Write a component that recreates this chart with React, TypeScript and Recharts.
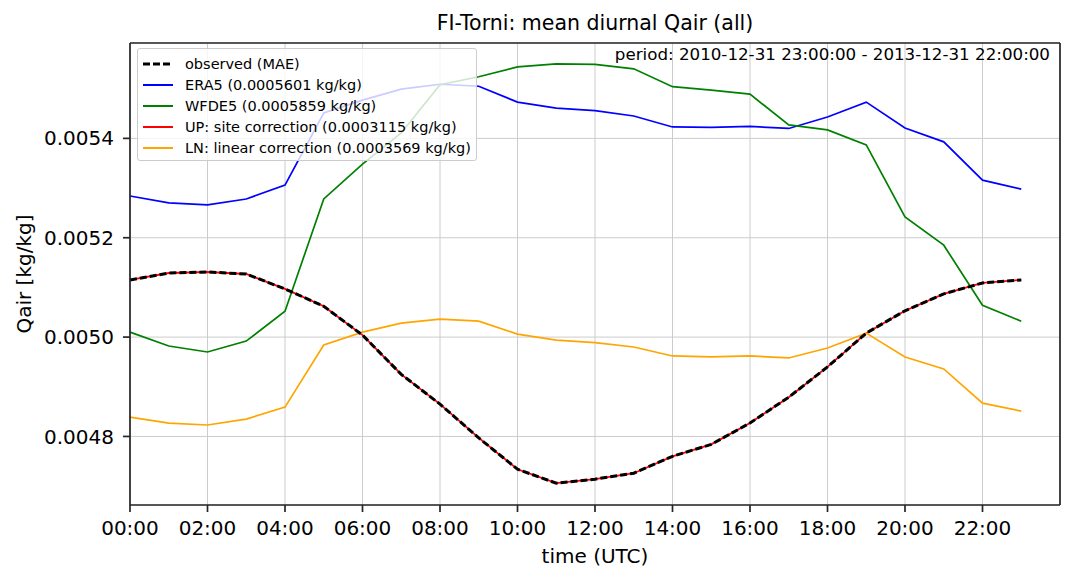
import React from 'react';
import { LineChart, Line, XAxis, YAxis, CartesianGrid, Label, ReferenceLine } from 'recharts';

const hours = [0, 1, 2, 3, 4, 5, 6, 7, 8, 9, 10, 11, 12, 13, 14, 15, 16, 17, 18, 19, 20, 21, 22, 23];

const observed = [
  0.005115, 0.005129, 0.005131, 0.005127, 0.005097, 0.005062, 0.005004, 0.004925,
  0.004865, 0.004797, 0.004734, 0.004706, 0.004714, 0.004726, 0.00476, 0.004784,
  0.004827, 0.004879, 0.00494, 0.005008, 0.005053, 0.005087, 0.005109, 0.005115,
];
const era5 = [
  0.005284, 0.00527, 0.005266, 0.005278, 0.005306, 0.005451, 0.005477, 0.005499,
  0.005509, 0.005505, 0.005473, 0.005461, 0.005456, 0.005445, 0.005423, 0.005422,
  0.005424, 0.00542, 0.005443, 0.005473, 0.005421, 0.005393, 0.005316, 0.005298,
];
const wfde5 = [
  0.00501, 0.004982, 0.00497, 0.004992, 0.005052, 0.005278, 0.005348, 0.005411,
  0.005508, 0.005524, 0.005544, 0.00555, 0.005549, 0.00554, 0.005504, 0.005497,
  0.005489, 0.005427, 0.005417, 0.005387, 0.005242, 0.005185, 0.005064, 0.005032,
];
const upSite = [
  0.005115, 0.005129, 0.005131, 0.005127, 0.005097, 0.005062, 0.005004, 0.004925,
  0.004865, 0.004797, 0.004734, 0.004706, 0.004714, 0.004726, 0.00476, 0.004784,
  0.004827, 0.004879, 0.00494, 0.005008, 0.005053, 0.005087, 0.005109, 0.005115,
];
const lnLinear = [
  0.004839, 0.004827, 0.004823, 0.004835, 0.004859, 0.004984, 0.00501, 0.005028,
  0.005036, 0.005032, 0.005006, 0.004994, 0.004989, 0.00498, 0.004962, 0.00496,
  0.004962, 0.004958, 0.004978, 0.005008, 0.00496, 0.004936, 0.004867, 0.004851,
];

const xTicks = [0, 2, 4, 6, 8, 10, 12, 14, 16, 18, 20, 22];
const yTicks = [0.0048, 0.005, 0.0052, 0.0054];
const xDomain = [0, 24];
const yDomain = [0.004662, 0.005592];

const series = [
  { key: 'obs', name: 'observed (MAE)', color: '#000000', dash: '7 3', width: 3 },
  { key: 'era5', name: 'ERA5 (0.0005601 kg/kg)', color: '#0000ff', dash: undefined, width: 1.7 },
  { key: 'wfde5', name: 'WFDE5 (0.0005859 kg/kg)', color: '#008000', dash: undefined, width: 1.7 },
  { key: 'up', name: 'UP: site correction (0.0003115 kg/kg)', color: '#ff0000', dash: undefined, width: 1.8 },
  { key: 'ln', name: 'LN: linear correction (0.0003569 kg/kg)', color: '#ffa500', dash: undefined, width: 1.7 },
];

const rows = hours.map((h, i) => ({
  hour: h,
  obs: observed[i],
  era5: era5[i],
  wfde5: wfde5[i],
  up: upSite[i],
  ln: lnLinear[i],
}));

const font = 'DejaVu Sans, sans-serif';
const spine = '#262626';

const fmtHour = (v: number) => `${String(v).padStart(2, '0')}:00`;

export default function App() {
  // red first, black dashed observed on top of it
  const drawOrder = ['era5', 'wfde5', 'up', 'ln', 'obs'];

  return (
    <div style={{ position: 'absolute', left: 0, top: 0, width: 1075, height: 583, background: '#fff', fontFamily: font }}>
      <div style={{ position: 'absolute', left: 130, top: 11, width: 930, textAlign: 'center', fontSize: 20.5, lineHeight: '24px', color: '#000' }}>
        FI-Torni: mean diurnal Qair (all)
      </div>
      <LineChart width={1075} height={583} data={rows} margin={{ top: 43, right: 15, bottom: 0, left: 0 }} style={{ fontFamily: font }}>
        <CartesianGrid stroke="#cccccc" strokeWidth={1} />
        <XAxis
          dataKey="hour"
          type="number"
          domain={xDomain}
          ticks={xTicks}
          tickFormatter={fmtHour}
          height={78}
          tickSize={7}
          tickMargin={9}
          tick={{ fill: '#000', fontSize: 20 }}
          axisLine={{ stroke: spine, strokeWidth: 1.7 }}
          tickLine={{ stroke: spine, strokeWidth: 1.7 }}
        >
          <Label
            content={(p: any) => {
              const vb = p.viewBox;
              return (
                <text x={vb.x + vb.width / 2} y={556} textAnchor="middle" dominantBaseline="central" fontSize={20} fill="#000">
                  time (UTC)
                </text>
              );
            }}
          />
        </XAxis>
        <YAxis
          type="number"
          domain={yDomain}
          allowDataOverflow
          ticks={yTicks}
          tickFormatter={(v: number) => v.toFixed(4)}
          width={130}
          tickSize={7}
          tickMargin={9}
          tick={{ fill: '#000', fontSize: 20 }}
          axisLine={{ stroke: spine, strokeWidth: 1.7 }}
          tickLine={{ stroke: spine, strokeWidth: 1.7 }}
        >
          <Label
            content={(p: any) => {
              const vb = p.viewBox;
              const cy = vb.y + vb.height / 2;
              return (
                <text x={24} y={cy} transform={`rotate(-90, 24, ${cy})`} textAnchor="middle" dominantBaseline="central" fontSize={20} fill="#000">
                  Qair [kg/kg]
                </text>
              );
            }}
          />
        </YAxis>
        {drawOrder.map((k) => {
          const s = series.find((x) => x.key === k)!;
          return (
            <Line
              key={s.key}
              dataKey={s.key}
              name={s.name}
              type="linear"
              stroke={s.color}
              strokeWidth={s.width}
              strokeDasharray={s.dash}
              dot={false}
              activeDot={false}
              isAnimationActive={false}
            />
          );
        })}
        {/* top and right spines */}
        <ReferenceLine y={yDomain[1]} stroke={spine} strokeWidth={1.7} ifOverflow="visible" />
        <ReferenceLine x={xDomain[1]} stroke={spine} strokeWidth={1.7} ifOverflow="visible" />
      </LineChart>
      <div style={{ position: 'absolute', right: 25, top: 43, fontSize: 16.7, lineHeight: '22px', color: '#000' }}>
        period: 2010-12-31 23:00:00 - 2013-12-31 22:00:00
      </div>
      <div
        style={{
          position: 'absolute',
          left: 137,
          top: 48,
          padding: '4px 5px 1px 5px',
          background: 'rgba(255,255,255,0.8)',
          border: '1px solid #cccccc',
          borderRadius: 3,
          fontSize: 14.5,
          color: '#000',
        }}
      >
        {series.map((s) => (
          <div key={s.key} style={{ display: 'flex', alignItems: 'center', height: 21.2, whiteSpace: 'nowrap' }}>
            <svg width={30} height={8} style={{ marginRight: 12 }}>
              <line x1={0} y1={4} x2={30} y2={4} stroke={s.color} strokeWidth={s.key === 'obs' ? 3 : 2} strokeDasharray={s.dash} />
            </svg>
            <span>{s.name}</span>
          </div>
        ))}
      </div>
    </div>
  );
}
